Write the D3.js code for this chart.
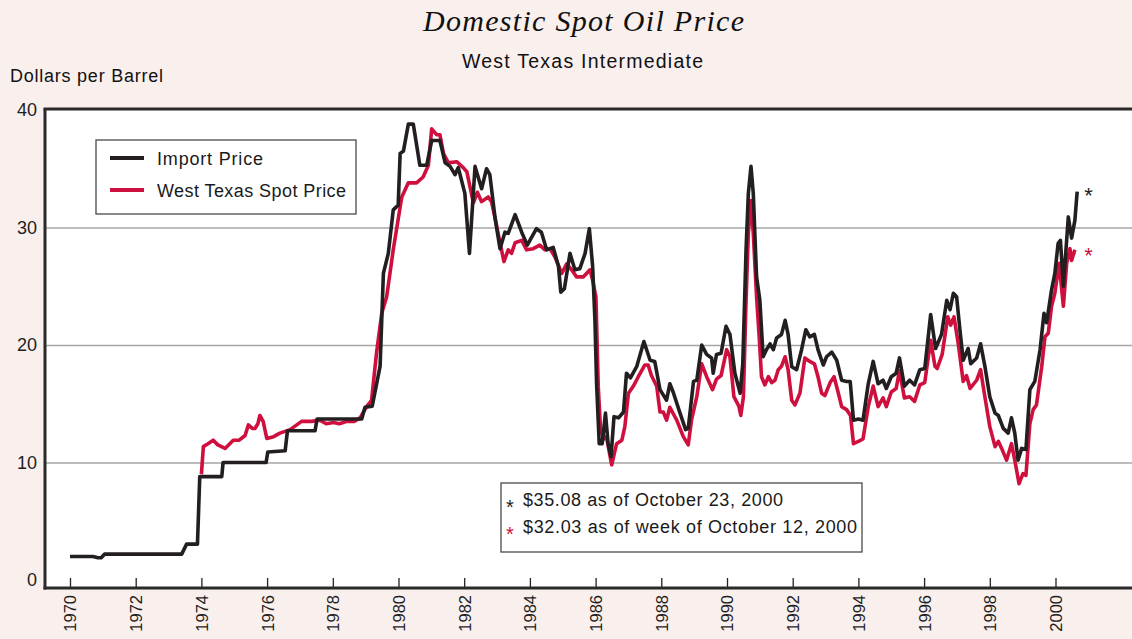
<!DOCTYPE html>
<html>
<head>
<meta charset="utf-8">
<script src="https://cdn.jsdelivr.net/npm/d3@7"></script>
<style>
  html, body { margin: 0; padding: 0; background: #f9efed; }
  svg { display: block; }
  text { font-family: "Liberation Sans", Arial, sans-serif; fill: #1e1e1e; }
</style>
</head>
<body>
<svg id="chart" width="1132" height="639"></svg>
<script>
// ---------------- DATA ----------------
const title = "Domestic Spot Oil Price";
const subtitle = "West Texas Intermediate";
const yAxisTitle = "Dollars per Barrel";
const seriesNames = ["Import Price", "West Texas Spot Price"];
const notes = ["$35.08 as of October 23, 2000", "$32.03 as of week of October 12, 2000"];
const xTicks = [1970,1972,1974,1976,1978,1980,1982,1984,1986,1988,1990,1992,1994,1996,1998,2000];
const yTicks = [0,10,20,30,40];
const gridValues = [10,20,30];

// Import price (decimal year, $/bbl)
const importDates = [
  1970.00,1970.70,1970.85,1970.95,1971.05,1973.40,1973.55,1973.88,1973.95,1974.62,1974.66,1975.97,
  1976.02,1976.55,1976.62,1977.46,1977.52,1978.88,1978.98,1979.20,1979.44,1979.54,1979.69,1979.84,
  1979.99,1980.05,1980.15,1980.30,1980.45,1980.65,1980.86,1981.01,1981.26,1981.42,1981.57,1981.72,
  1981.82,1982.02,1982.16,1982.33,1982.53,1982.68,1982.78,1982.94,1983.09,1983.24,1983.34,1983.55,
  1983.75,1983.92,1984.20,1984.35,1984.51,1984.71,1984.87,1984.94,1985.05,1985.22,1985.37,1985.52,
  1985.68,1985.81,1985.91,1985.98,1986.03,1986.11,1986.20,1986.30,1986.38,1986.47,1986.56,1986.70,
  1986.85,1986.94,1987.06,1987.25,1987.47,1987.66,1987.80,1987.96,1988.16,1988.26,1988.36,1988.57,
  1988.74,1988.82,1988.98,1989.08,1989.23,1989.38,1989.53,1989.58,1989.68,1989.82,1989.97,1990.09,
  1990.24,1990.40,1990.48,1990.58,1990.65,1990.73,1990.80,1990.90,1991.00,1991.10,1991.20,1991.31,
  1991.41,1991.51,1991.66,1991.77,1991.86,1991.97,1992.12,1992.27,1992.40,1992.52,1992.66,1992.77,
  1992.93,1993.03,1993.19,1993.34,1993.49,1993.64,1993.75,1993.85,1994.00,1994.14,1994.30,1994.45,
  1994.60,1994.75,1994.85,1995.00,1995.15,1995.25,1995.40,1995.56,1995.71,1995.87,1996.02,1996.20,
  1996.35,1996.53,1996.69,1996.79,1996.89,1996.99,1997.09,1997.19,1997.34,1997.42,1997.60,1997.72,
  1997.85,1998.00,1998.16,1998.26,1998.41,1998.56,1998.66,1998.76,1998.86,1998.97,1999.10,1999.22,
  1999.37,1999.53,1999.65,1999.73,1999.88,1999.98,2000.08,2000.15,2000.24,2000.39,2000.49,2000.59,
  2000.66
];
const importValues = [
  2.0,2.0,1.9,1.9,2.2,2.2,3.05,3.05,8.8,8.8,10.0,10.0,
  10.9,11.0,12.7,12.7,13.7,13.7,14.7,14.8,18.2,26.1,27.8,31.5,
  31.9,36.3,36.5,38.8,38.8,35.3,35.3,37.4,37.4,35.5,35.2,34.5,
  35.1,32.9,27.8,35.2,33.3,35.0,34.5,30.8,28.2,29.6,29.5,31.1,
  29.6,28.5,29.9,29.6,28.1,28.3,26.7,24.5,24.8,27.8,26.4,26.5,
  27.8,29.9,26.7,22.1,16.7,11.6,11.6,14.2,11.6,10.5,13.9,13.8,
  14.3,17.6,17.2,18.15,20.3,18.7,18.6,16.2,15.3,16.7,16.0,14.2,
  12.8,12.9,16.9,17.0,20.0,19.2,18.9,17.6,19.2,19.3,21.6,20.9,
  17.6,15.9,18.4,28.1,32.9,35.2,32.9,25.8,23.8,19.0,19.6,20.1,
  19.6,20.6,20.9,22.1,20.9,18.15,17.9,19.6,21.3,20.7,20.9,19.6,
  18.3,19.0,19.4,18.7,17.0,16.9,16.9,13.6,13.7,13.6,16.7,18.6,
  16.7,17.0,16.3,17.3,17.6,18.9,16.5,17.0,16.6,17.9,18.0,22.6,
  19.7,20.9,23.8,23.0,24.4,24.1,21.3,18.7,19.7,18.4,18.9,20.1,
  18.2,15.6,14.2,14.0,12.9,12.5,13.8,12.5,10.2,11.2,11.1,16.2,
  16.9,19.6,22.7,21.9,24.7,26.1,28.65,28.9,25.0,30.9,29.1,30.6,
  33.05
];

// West Texas spot price (decimal year, $/bbl)
const spotDates = [
  1974.00,1974.06,1974.20,1974.36,1974.50,1974.72,1974.97,1975.15,1975.33,1975.43,1975.55,1975.63,
  1975.72,1975.78,1975.88,1975.99,1976.20,1976.39,1976.70,1977.05,1977.35,1977.60,1977.80,1978.02,
  1978.20,1978.43,1978.65,1978.83,1979.03,1979.18,1979.33,1979.49,1979.64,1979.84,1980.10,1980.30,
  1980.55,1980.75,1980.91,1981.01,1981.16,1981.26,1981.37,1981.52,1981.77,1981.97,1982.08,1982.28,
  1982.40,1982.53,1982.73,1982.83,1982.94,1983.09,1983.21,1983.34,1983.44,1983.55,1983.75,1983.90,
  1984.10,1984.30,1984.46,1984.61,1984.76,1984.97,1985.12,1985.27,1985.42,1985.63,1985.83,1985.91,
  1986.01,1986.08,1986.15,1986.25,1986.33,1986.49,1986.64,1986.80,1986.89,1987.00,1987.15,1987.30,
  1987.50,1987.60,1987.70,1987.86,1987.96,1988.06,1988.16,1988.26,1988.47,1988.67,1988.82,1988.92,
  1989.08,1989.23,1989.38,1989.56,1989.68,1989.82,1989.99,1990.09,1990.21,1990.36,1990.42,1990.50,
  1990.58,1990.65,1990.73,1990.80,1990.90,1990.98,1991.05,1991.15,1991.26,1991.36,1991.46,1991.56,
  1991.66,1991.77,1991.86,1991.97,1992.07,1992.22,1992.37,1992.52,1992.66,1992.77,1992.88,1992.98,
  1993.14,1993.26,1993.39,1993.49,1993.64,1993.76,1993.85,1994.00,1994.14,1994.30,1994.45,1994.60,
  1994.75,1994.85,1995.00,1995.15,1995.25,1995.40,1995.56,1995.71,1995.87,1996.02,1996.20,1996.33,
  1996.40,1996.55,1996.72,1996.81,1996.91,1997.04,1997.19,1997.29,1997.40,1997.60,1997.72,1997.85,
  1998.00,1998.16,1998.26,1998.36,1998.51,1998.66,1998.76,1998.89,1999.01,1999.10,1999.22,1999.32,
  1999.42,1999.58,1999.68,1999.78,1999.88,1999.98,2000.11,2000.24,2000.34,2000.44,2000.49,2000.59
];
const spotValues = [
  9.0,11.35,11.6,11.9,11.5,11.2,11.9,11.9,12.3,13.2,12.9,12.9,
  13.3,14.0,13.5,12.05,12.2,12.5,12.8,13.5,13.5,13.6,13.3,13.4,
  13.3,13.5,13.5,13.8,14.75,15.3,19.3,22.7,24.1,28.1,32.6,33.8,
  33.8,34.3,35.3,38.4,37.9,37.9,36.3,35.5,35.6,35.1,34.75,32.1,
  33.0,32.2,32.6,32.2,30.8,28.7,27.1,28.1,27.8,28.7,28.9,28.1,
  28.2,28.5,28.1,28.2,27.5,26.1,26.9,26.4,25.8,25.8,26.4,25.5,
  24.1,16.5,12.8,12.0,12.2,9.8,11.6,11.9,13.05,15.9,16.5,17.3,
  18.3,18.3,17.4,16.5,14.3,14.3,13.6,14.7,13.6,12.2,11.5,13.6,
  15.6,18.4,17.3,16.2,17.1,17.4,19.6,19.0,15.6,14.8,14.0,15.6,
  23.8,29.5,32.3,29.5,24.1,20.7,17.3,16.6,17.3,16.8,17.0,17.9,
  18.2,19.0,17.9,15.3,14.9,15.9,18.9,18.6,18.4,17.3,15.9,15.7,
  16.8,17.3,15.9,14.75,14.5,14.0,11.6,11.8,12.0,14.75,16.5,14.75,
  15.5,14.75,16.0,16.3,17.8,15.5,15.6,15.2,16.6,16.8,20.4,18.2,
  18.0,19.2,22.4,21.7,22.4,20.1,16.9,17.4,16.3,17.0,17.9,15.6,
  13.05,11.35,11.8,11.2,10.2,11.6,10.2,8.2,9.05,8.9,13.3,14.5,
  14.9,18.15,20.7,21.0,23.3,24.4,26.95,23.3,26.95,28.2,27.2,28.1
];

// ---------------- LAYOUT ----------------
const W = 1132, H = 639;
const plotLeft = 45, plotTop = 109, axisY = 588;
const BLACK = "#231f20", RED = "#cf0f3d";
const svg = d3.select("#chart");

const x = d3.scaleLinear().domain([1970, 2000]).range([70, 1055.5]);
const y = d3.scaleLinear().domain([0, 40]).range([580, 110]);

// background + white plot area
svg.append("rect").attr("width", W).attr("height", H).attr("fill", "#f9efed");
svg.append("rect").attr("x", plotLeft).attr("y", plotTop)
  .attr("width", W - plotLeft).attr("height", axisY - plotTop).attr("fill", "#ffffff");

// titles
svg.append("text").attr("x", 423).attr("y", 31)
  .attr("textLength", 321).attr("lengthAdjust", "spacing")
  .style("font-family", "'Liberation Serif', 'DejaVu Serif', serif")
  .style("font-style", "italic").style("font-size", "30px").style("fill", "#111")
  .text(title);
svg.append("text").attr("x", 462).attr("y", 68)
  .attr("textLength", 241).attr("lengthAdjust", "spacing")
  .style("font-size", "19.5px").style("fill", "#111")
  .text(subtitle);
svg.append("text").attr("x", 10).attr("y", 82)
  .attr("textLength", 153).attr("lengthAdjust", "spacing")
  .style("font-size", "18px").style("fill", "#111")
  .text(yAxisTitle);

// gridlines
const grid = svg.append("g").attr("transform", `translate(${plotLeft},0)`)
  .call(d3.axisLeft(y).tickValues(gridValues).tickSize(-(W - plotLeft)).tickFormat(""));
grid.select(".domain").remove();
grid.selectAll("line").attr("stroke", "#a6a6a6").attr("stroke-width", 1.5);

// y axis labels
const yAxis = svg.append("g").attr("transform", `translate(${plotLeft},0)`)
  .call(d3.axisLeft(y).tickValues(yTicks).tickSize(0).tickPadding(8).tickFormat(d3.format("d")));
yAxis.select(".domain").remove();
yAxis.selectAll("text").style("font-family", "'Liberation Sans', Arial, sans-serif")
  .style("font-size", "18px").attr("fill", "#111");

// x axis with inward ticks and rotated labels
const xAxis = svg.append("g").attr("transform", `translate(0,${axisY})`)
  .call(d3.axisBottom(x).tickValues(xTicks).tickSizeInner(-10).tickSizeOuter(0).tickFormat(d3.format("d")));
xAxis.select(".domain").remove();
xAxis.selectAll("line").attr("stroke", "#222").attr("stroke-width", 1.3);
xAxis.selectAll("text")
  .attr("transform", "rotate(-90)")
  .attr("x", -7).attr("y", 0).attr("dy", "0.36em")
  .attr("text-anchor", "end")
  .style("font-family", "'Liberation Sans', Arial, sans-serif")
  .style("font-size", "16.5px").attr("fill", "#111");

// frame lines
svg.append("line").attr("x1", plotLeft - 1.5).attr("x2", W).attr("y1", plotTop).attr("y2", plotTop)
  .attr("stroke", "#2a2a2a").attr("stroke-width", 3);
svg.append("line").attr("x1", plotLeft).attr("x2", plotLeft).attr("y1", plotTop).attr("y2", axisY + 1.5)
  .attr("stroke", "#2a2a2a").attr("stroke-width", 3);
svg.append("line").attr("x1", plotLeft - 1.5).attr("x2", W).attr("y1", axisY).attr("y2", axisY)
  .attr("stroke", "#2a2a2a").attr("stroke-width", 3);

// lines
const line = d3.line().x(d => x(d[0])).y(d => y(d[1]));
const spot = spotDates.map((d, i) => [d, spotValues[i]]);
const imp = importDates.map((d, i) => [d, importValues[i]]);
svg.append("path").datum(spot).attr("d", line).attr("fill", "none")
  .attr("stroke", RED).attr("stroke-width", 3.6).attr("stroke-linejoin", "round");
svg.append("path").datum(imp).attr("d", line).attr("fill", "none")
  .attr("stroke", BLACK).attr("stroke-width", 3.6).attr("stroke-linejoin", "round");

// end asterisks
const lastImp = imp[imp.length - 1], lastSpot = spot[spot.length - 1];
svg.append("text").attr("x", x(lastImp[0]) + 7).attr("y", y(lastImp[1]) + 11)
  .style("font-size", "22px").style("fill", BLACK).text("*");
svg.append("text").attr("x", x(lastImp[0]) + 7).attr("y", y(lastSpot[1]) + 13)
  .style("font-size", "22px").style("fill", RED).text("*");

// legend
const lg = svg.append("g");
lg.append("rect").attr("x", 96).attr("y", 140).attr("width", 260).attr("height", 74)
  .attr("fill", "#fff").attr("stroke", "#4a4a4a").attr("stroke-width", 1.3);
[[BLACK, 158, 106], [RED, 190, 189]].forEach(([c, yy, tl], i) => {
  lg.append("line").attr("x1", 110).attr("x2", 144).attr("y1", yy).attr("y2", yy)
    .attr("stroke", c).attr("stroke-width", 4);
  lg.append("text").attr("x", 157).attr("y", yy + 6.5)
    .attr("textLength", tl).attr("lengthAdjust", "spacing")
    .style("font-size", "18px").style("fill", "#1a1a1a").text(seriesNames[i]);
});

// note box
const nb = svg.append("g");
nb.append("rect").attr("x", 501).attr("y", 483).attr("width", 361).attr("height", 69)
  .attr("fill", "#fff").attr("stroke", "#4a4a4a").attr("stroke-width", 1.3);
[[BLACK, 506, 260], [RED, 533, 334]].forEach(([c, yy, tl], i) => {
  nb.append("text").attr("x", 506).attr("y", yy + 8)
    .style("font-size", "20px").style("fill", c).text("*");
  nb.append("text").attr("x", 523).attr("y", yy)
    .attr("textLength", tl).attr("lengthAdjust", "spacing")
    .style("font-size", "18px").style("fill", "#1a1a1a").text(notes[i]);
});
</script>
</body>
</html>
